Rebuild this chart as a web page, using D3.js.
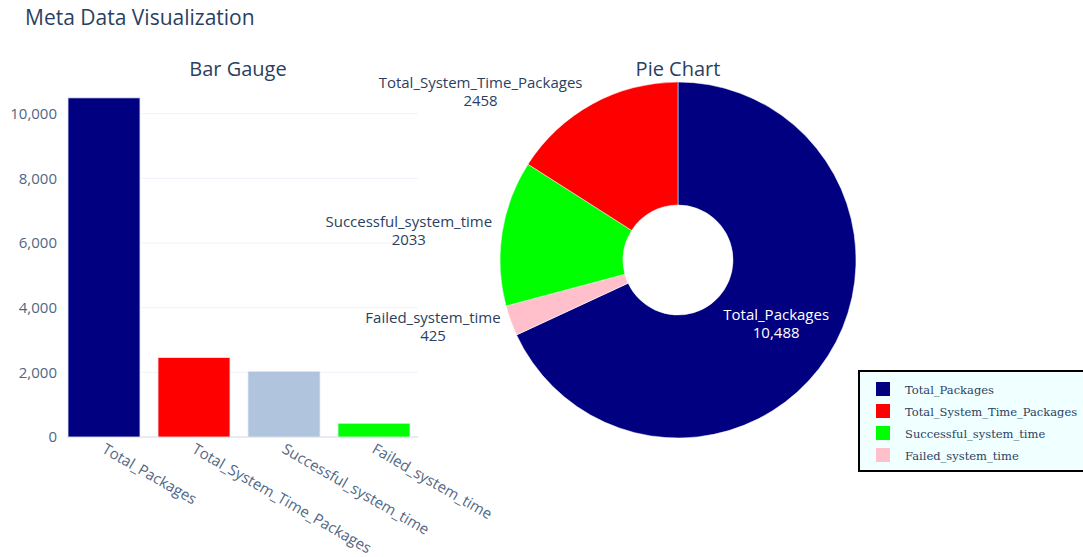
<!DOCTYPE html>
<html>
<head>
<meta charset="utf-8">
<script src="https://cdn.jsdelivr.net/npm/d3@7"></script>
<style>
  body { margin: 0; background: #fff; }
  svg { display: block; font-family: "Open Sans", sans-serif; }
</style>
</head>
<body>
<script>
// data
var categories = ["Total_Packages", "Total_System_Time_Packages", "Successful_system_time", "Failed_system_time"];
var values = [10488, 2458, 2033, 425];
var barColors = ["#000080", "#ff0000", "#b0c4de", "#00ff00"];
var pieColors = ["#000080", "#ff0000", "#00ff00", "#ffc0cb"];
var pieOrder = [0, 3, 2, 1];        // clockwise from 12 o'clock
var yTicks = [0, 2000, 4000, 6000, 8000, 10000];

var width = 1083, height = 557;
var svg = d3.select("body").append("svg")
    .attr("width", width)
    .attr("height", height);

svg.append("text")
    .attr("x", 25).attr("y", 25)
    .attr("fill", "#2a3f5f")
    .style("font-size", "21px")
    .text("Meta Data Visualization");

// ---- bar chart ----
var plot = {left: 59, right: 419, top: 80, bottom: 437};

var x = d3.scaleBand()
    .domain(categories)
    .range([plot.left, plot.right])
    .paddingInner(0.2)
    .paddingOuter(0.1);

var y = d3.scaleLinear()
    .domain([0, 11040])
    .range([plot.bottom, plot.top]);

svg.append("text")
    .attr("x", (plot.left + plot.right) / 2 - 1).attr("y", 76)
    .attr("text-anchor", "middle")
    .attr("fill", "#2a3f5f")
    .style("font-size", "20px")
    .text("Bar Gauge");

var grid = svg.append("g");
grid.selectAll("line")
    .data(yTicks)
    .enter().append("line")
    .attr("x1", 67).attr("x2", 418)
    .attr("y1", d => y(d)).attr("y2", d => y(d))
    .attr("stroke", d => d === 0 ? "#e6ebf5" : "#eef2f9")
    .attr("stroke-width", d => d === 0 ? 2 : 1);

var yAxis = d3.axisLeft(y).tickValues(yTicks).tickSize(0).tickPadding(10).tickFormat(d3.format(","));
svg.append("g")
    .attr("transform", "translate(" + 67 + ",0)")
    .call(yAxis)
    .call(g => g.select(".domain").remove())
    .selectAll("text")
    .attr("fill", "#506784")
    .style("font-size", "15px")
    .style("font-family", "Open Sans");

svg.append("g").selectAll("rect")
    .data(values)
    .enter().append("rect")
    .attr("x", (d, i) => x(categories[i]))
    .attr("width", x.bandwidth())
    .attr("y", d => y(d))
    .attr("height", d => y(0) - y(d))
    .attr("fill", (d, i) => barColors[i])
    .attr("stroke", "#e5ecf6")
    .attr("stroke-width", 0.8);

svg.append("g").selectAll("text")
    .data(categories)
    .enter().append("text")
    .attr("transform", d => "translate(" + (x(d) + x.bandwidth() / 2 - 3) + "," + 452 + ") rotate(30)")
    .attr("fill", "#506784")
    .style("font-size", "15px")
    .text(d => d);

// ---- pie chart ----
var cx = 678, cy = 260, outerR = 178, innerR = 55;
var total = d3.sum(values);

svg.append("text")
    .attr("x", cx).attr("y", 76)
    .attr("text-anchor", "middle")
    .attr("fill", "#2a3f5f")
    .style("font-size", "20px")
    .text("Pie Chart");

var pie = d3.pie().sort(null).value(i => values[i]);
var arcs = pie(pieOrder);
var arc = d3.arc().innerRadius(innerR).outerRadius(outerR);

var pg = svg.append("g").attr("transform", "translate(" + cx + "," + cy + ")");
pg.selectAll("path")
    .data(arcs)
    .enter().append("path")
    .attr("d", arc)
    .attr("fill", d => pieColors[d.data])
    .attr("stroke", "#fff")
    .attr("stroke-width", 0.5);

arcs.forEach(function (a) {
    var i = a.data;
    var mid = (a.startAngle + a.endAngle) / 2;
    var frac = values[i] / total;
    if (frac > 0.5) {
        var c = arc.centroid(a);
        var t = pg.append("text")
            .attr("text-anchor", "middle")
            .attr("fill", "#fff")
            .style("font-size", "15px");
        t.append("tspan").attr("x", c[0]).attr("y", c[1] - 3).text(categories[i]);
        t.append("tspan").attr("x", c[0]).attr("y", c[1] + 15).text(d3.format(",")(values[i]));
    } else {
        var px = outerR * Math.sin(mid), py = -outerR * Math.cos(mid);
        var t2 = pg.append("text")
            .attr("text-anchor", "middle")
            .attr("fill", "#2a3f5f")
            .style("font-size", "15px");
        var l1 = t2.append("tspan").text(categories[i]);
        var w = l1.node().getComputedTextLength();
        var tx = px - 10 - w / 2;
        var ccy = py - 15 * Math.cos(mid);
        l1.attr("x", tx).attr("y", ccy - 3);
        t2.append("tspan").attr("x", tx).attr("y", ccy + 15).text(values[i]);
    }
});

// ---- legend ----
var lg = svg.append("g").attr("transform", "translate(859,371)");
lg.append("rect")
    .attr("width", 240).attr("height", 100)
    .attr("fill", "#f0ffff")
    .attr("stroke", "#000")
    .attr("stroke-width", 2);

var items = lg.selectAll("g.item")
    .data(categories)
    .enter().append("g")
    .attr("class", "item")
    .attr("transform", (d, i) => "translate(0," + (18 + i * 22) + ")");
items.append("rect")
    .attr("x", 17).attr("y", -7)
    .attr("width", 14).attr("height", 14)
    .attr("fill", (d, i) => pieColors[i]);
items.append("text")
    .attr("x", 46).attr("y", 4.5)
    .attr("fill", "#2a3f5f")
    .style("font-family", "'DejaVu Serif', serif")
    .style("font-size", "11.5px")
    .text(d => d);
</script>
</body>
</html>
